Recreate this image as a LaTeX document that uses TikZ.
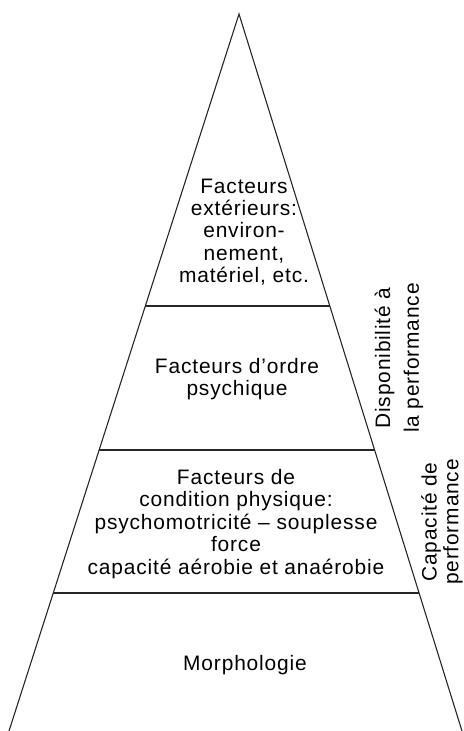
\documentclass[tikz,border=0pt]{standalone}
\usepackage{fontspec}
\setmainfont{Liberation Sans}[LetterSpace=4]
\usepackage{tikz}
\usetikzlibrary{calc}

\tikzset{
  edge/.style={line width=1.1pt, black!85},
  layer/.style={align=center, inner sep=0pt, font=\fontsize{21}{22.5}\selectfont},
  side/.style={align=center, inner sep=0pt, rotate=90, font=\fontsize{21}{29}\selectfont}
}

\begin{document}
\begin{tikzpicture}[x=1bp, y=-1bp]
\useasboundingbox (0,0) rectangle (464,731);
%\node {\includegraphics{pyramide.jpg}};
\coordinate (apex) at (239,14);
\coordinate (baseL) at (9,731);
\coordinate (baseR) at (462,731);
\draw[edge] (baseL) -- (apex) -- (baseR);
\draw[edge] ($(apex)!0.4073!(baseL)$) -- ($(apex)!0.4073!(baseR)$);
\draw[edge] ($(apex)!0.6081!(baseL)$) -- ($(apex)!0.6081!(baseR)$);
\draw[edge] ($(apex)!0.8075!(baseL)$) -- ($(apex)!0.8075!(baseR)$);
\node[layer] (ext) at (244,232) {Facteurs\\ extérieurs:\\ environ-\\ nement,\\ matériel, etc.};
\node[layer] (psy) at (237,379) {Facteurs d’ordre\\ psychique};
\node[layer] (phys) at (236,524) {Facteurs de\\ condition physique:\\ psychomotricité -- souplesse\\ force\\ capacité aérobie et anaérobie};
\node[layer] (morph) at (245,665) {Morphologie};
\node[side] (dispo) at (399,358) {Disponibilité à\\ la performance};
\node[side, font=\fontsize{21}{22}\selectfont] (capa) at (442,522) {Capacité de\\ performance};
\end{tikzpicture}
\end{document}
